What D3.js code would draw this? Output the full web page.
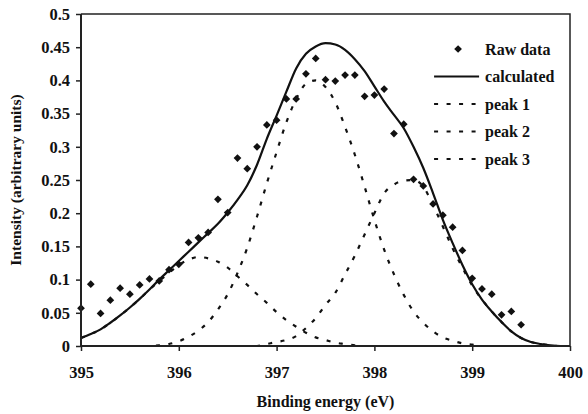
<!DOCTYPE html>
<html>
<head>
<meta charset="utf-8">
<script src="https://cdn.jsdelivr.net/npm/d3@7"></script>
<style>
  body { margin: 0; background: #fff; }
  svg text { font-family: "Liberation Serif", "Times New Roman", Times, serif !important; font-weight: bold; fill: #111; }
</style>
</head>
<body>
<div id="chart"></div>
<script>
var svgWidth = 588;
var svgHeight = 414;

var margin = { top: 14, right: 18, bottom: 68, left: 81 };
var width = svgWidth - margin.left - margin.right;
var height = svgHeight - margin.top - margin.bottom;

// raw data, 395.0 .. 399.5 step 0.1
var rawEnergy = [395.0, 395.1, 395.2, 395.3, 395.4, 395.5, 395.6, 395.7, 395.8, 395.9,
  396.0, 396.1, 396.2, 396.3, 396.4, 396.5, 396.6, 396.7, 396.8, 396.9,
  397.0, 397.1, 397.2, 397.3, 397.4, 397.5, 397.6, 397.7, 397.8, 397.9,
  398.0, 398.1, 398.2, 398.3, 398.4, 398.5, 398.6, 398.7, 398.8, 398.9,
  399.0, 399.1, 399.2, 399.3, 399.4, 399.5];
var rawIntensity = [0.057, 0.093, 0.049, 0.069, 0.087, 0.078, 0.092, 0.101, 0.098, 0.115,
  0.123, 0.156, 0.163, 0.171, 0.221, 0.201, 0.283, 0.267, 0.300, 0.333,
  0.340, 0.372, 0.372, 0.410, 0.433, 0.401, 0.399, 0.408, 0.408, 0.376,
  0.378, 0.387, 0.320, 0.334, 0.251, 0.241, 0.214, 0.197, 0.179, 0.144,
  0.102, 0.086, 0.078, 0.047, 0.052, 0.032];

// curves, 395.0 .. 400.0 step 0.1
var curveEnergy = [395.0, 395.1, 395.2, 395.3, 395.4, 395.5, 395.6, 395.7, 395.8, 395.9,
  396.0, 396.1, 396.2, 396.3, 396.4, 396.5, 396.6, 396.7, 396.8, 396.9,
  397.0, 397.1, 397.2, 397.3, 397.4, 397.5, 397.6, 397.7, 397.8, 397.9,
  398.0, 398.1, 398.2, 398.3, 398.4, 398.5, 398.6, 398.7, 398.8, 398.9,
  399.0, 399.1, 399.2, 399.3, 399.4, 399.5, 399.6, 399.7, 399.8, 399.9, 400.0];
var calculated = [0.012, 0.018, 0.025, 0.035, 0.046, 0.058, 0.071, 0.085, 0.100, 0.114,
  0.128, 0.142, 0.156, 0.170, 0.184, 0.201, 0.220, 0.242, 0.273, 0.312,
  0.347, 0.383, 0.418, 0.440, 0.451, 0.456, 0.454, 0.446, 0.432, 0.414,
  0.391, 0.368, 0.348, 0.328, 0.300, 0.268, 0.230, 0.190, 0.155, 0.122,
  0.093, 0.070, 0.052, 0.036, 0.022, 0.012, 0.006, 0.003, 0.001, 0.0, 0.0];
var peak1 = [0.012, 0.018, 0.025, 0.035, 0.046, 0.058, 0.071, 0.085, 0.098, 0.110,
  0.122, 0.130, 0.134, 0.132, 0.127, 0.118, 0.105, 0.092, 0.078, 0.065,
  0.051, 0.039, 0.029, 0.020, 0.013, 0.009, 0.005, 0.003, 0.001, 0.0,
  0, 0, 0, 0, 0, 0, 0, 0, 0, 0,
  0, 0, 0, 0, 0, 0, 0, 0, 0, 0, 0];
var peak2 = [0, 0, 0, 0, 0, 0, 0, 0, 0.001, 0.003,
  0.007, 0.014, 0.023, 0.036, 0.055, 0.078, 0.110, 0.148, 0.195, 0.245,
  0.292, 0.337, 0.372, 0.395, 0.400, 0.390, 0.367, 0.330, 0.288, 0.240,
  0.190, 0.145, 0.108, 0.077, 0.052, 0.035, 0.022, 0.013, 0.008, 0.004,
  0.002, 0, 0, 0, 0, 0, 0, 0, 0, 0, 0];
var peak3 = [0, 0, 0, 0, 0, 0, 0, 0, 0, 0,
  0, 0, 0, 0, 0, 0, 0, 0, 0, 0.003,
  0.006, 0.009, 0.015, 0.027, 0.042, 0.062, 0.080, 0.108, 0.136, 0.168,
  0.200, 0.230, 0.243, 0.249, 0.250, 0.240, 0.212, 0.180, 0.147, 0.118,
  0.091, 0.070, 0.052, 0.036, 0.022, 0.012, 0.006, 0.003, 0.001, 0, 0];

var xTicks = [395, 396, 397, 398, 399, 400];
var yTicks = [0, 0.05, 0.1, 0.15, 0.2, 0.25, 0.3, 0.35, 0.4, 0.45, 0.5];
var yTickLabels = ["0", "0.05", "0.1", "0.15", "0.2", "0.25", "0.3", "0.35", "0.4", "0.45", "0.5"];
var legendLabels = ["Raw data", "calculated", "peak 1", "peak 2", "peak 3"];

var serif = "'Liberation Serif', 'Times New Roman', serif";

var svg = d3.select("#chart")
  .append("svg")
  .attr("width", svgWidth)
  .attr("height", svgHeight);

var chartGroup = svg.append("g")
  .attr("transform", `translate(${margin.left}, ${margin.top})`);

var x = d3.scaleLinear().domain([395, 400]).range([0, width]);
var y = d3.scaleLinear().domain([0, 0.5]).range([height, 0]);

// frame (top + right)
chartGroup.append("path")
  .attr("d", `M0,0H${width}V${height}`)
  .attr("fill", "none")
  .attr("stroke", "#222")
  .attr("stroke-width", 1.5);

// curves
var line = d3.line()
  .x((d, i) => x(curveEnergy[i]))
  .y(d => y(d))
  .curve(d3.curveMonotoneX);

var dashStyle = "4,8.5";
[peak1, peak2, peak3].forEach(function(p) {
  chartGroup.append("path")
    .datum(p)
    .attr("d", line)
    .attr("fill", "none")
    .attr("stroke", "#111")
    .attr("stroke-width", 2.2)
    .attr("stroke-dasharray", dashStyle);
});

chartGroup.append("path")
  .datum(calculated)
  .attr("d", line)
  .attr("fill", "none")
  .attr("stroke", "#111")
  .attr("stroke-width", 2.2);

// raw data diamonds
var diamond = d3.symbol(d3.symbolSquare, 30);
chartGroup.selectAll(".raw")
  .data(rawIntensity)
  .enter()
  .append("path")
  .attr("class", "raw")
  .attr("d", diamond)
  .attr("transform", (d, i) => `translate(${x(rawEnergy[i])},${y(d)}) rotate(45)`)
  .attr("fill", "#111");

// axes
var bottomAxis = d3.axisBottom(x).tickValues(xTicks).tickFormat(d3.format("d")).tickSize(5).tickPadding(15);
var leftAxis = d3.axisLeft(y).tickValues(yTicks).tickFormat((d, i) => yTickLabels[i]).tickSize(5).tickPadding(6);

var xAxisG = chartGroup.append("g")
  .attr("transform", `translate(0, ${height})`)
  .call(bottomAxis);
var yAxisG = chartGroup.append("g")
  .call(leftAxis);

[xAxisG, yAxisG].forEach(function(g) {
  g.attr("font-family", serif);
  g.select(".domain").attr("stroke", "#222").attr("stroke-width", 2);
  g.selectAll(".tick line").attr("stroke", "#222").attr("stroke-width", 1.5);
  g.selectAll(".tick text")
    .style("font-family", serif)
    .attr("font-weight", "bold")
    .attr("font-size", 16.5)
    .attr("fill", "#111");
});
xAxisG.select(".domain").attr("d", `M0,0H${width}`);
yAxisG.select(".domain").attr("d", `M0,0V${height}`);

// axis titles
chartGroup.append("text")
  .attr("transform", "rotate(-90)")
  .attr("x", -height / 2)
  .attr("y", -60)
  .attr("text-anchor", "middle")
  .attr("font-size", 15.5)
  .style("font-family", serif)
  .text("Intensity (arbitrary units)");

chartGroup.append("text")
  .attr("x", width / 2)
  .attr("y", height + 61)
  .attr("text-anchor", "middle")
  .attr("font-size", 16)
  .style("font-family", serif)
  .text("Binding energy (eV)");

// legend
var legendX0 = x(398.6) - x(395) + 1;
var legendRowY = i => 35 + i * 27.5;

var lg = chartGroup.selectAll(".legend")
  .data(legendLabels)
  .enter()
  .append("g")
  .attr("class", "legend")
  .attr("transform", (d, i) => `translate(${legendX0}, ${legendRowY(i)})`);

lg.each(function(d, i) {
  var g = d3.select(this);
  if (i === 0) {
    g.append("path")
      .attr("d", diamond)
      .attr("transform", "translate(24,0) rotate(45)")
      .attr("fill", "#111");
  } else {
    g.append("line")
      .attr("x1", 0).attr("x2", 45)
      .attr("stroke", "#111")
      .attr("stroke-width", 2.2)
      .attr("stroke-dasharray", i === 1 ? null : dashStyle);
  }
  g.append("text")
    .attr("x", 51)
    .attr("dy", "0.35em")
    .attr("font-size", 16)
    .style("font-family", serif)
    .text(d);
});
</script>
</body>
</html>
